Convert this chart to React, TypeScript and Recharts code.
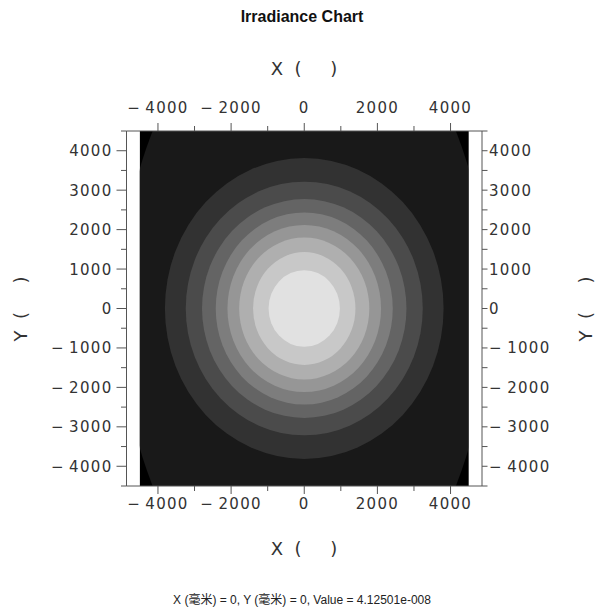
import React from 'react';
import { ComposedChart, XAxis, YAxis, ReferenceArea, Scatter } from 'recharts';

// grid extent and axis ranges (mm)
const gridHalf = 4500;
const xDomain = [-4860, 4860];
const yDomain = [-4500, 4500];
const xTicks = [-4000, -3000, -2000, -1000, 0, 1000, 2000, 3000, 4000];
const yTicks = [-4500, -4000, -3500, -3000, -2500, -2000, -1500, -1000, -500, 0, 500, 1000, 1500, 2000, 2500, 3000, 3500, 4000, 4500];

// contour bands, outer to inner: half widths / half heights in mm, and gray level
const bandHalfX = [5020, 3810, 3240, 2795, 2420, 2100, 1780, 1400, 975];
const bandHalfY = [7970, 3815, 3215, 2775, 2435, 2120, 1800, 1430, 972];
const bandColors = ['#191919', '#323232', '#4b4b4b', '#646464', '#7d7d7d', '#969696', '#afafaf', '#c8c8c8', '#e1e1e1'];

// probe point shown in the footer
const probe = [{ x: 0, y: 0, value: 4.12501e-8 }];

const axisColor = '#555';
const tickFont = { fontFamily: '"DejaVu Sans", sans-serif', fontSize: 15, letterSpacing: 1.3, fill: '#333' };
const titleFont = { fontFamily: '"DejaVu Sans", sans-serif', fontSize: 18, fill: '#333' };

const fmt = (v: number) => (v < 0 ? `\u2212\u2009${-v}` : `${v}`);
const axisTitle = 'X\u00a0\u00a0(\u00a0\u00a0\u00a0\u00a0\u00a0)';
const yAxisTitle = 'Y\u00a0\u00a0(\u00a0\u00a0\u00a0\u00a0\u00a0)';

const XTick = (props: any) => {
  const { x, y, payload, side } = props;
  const v = payload.value;
  const major = v % 2000 === 0;
  const dir = side === 'top' ? -1 : 1;
  const len = major ? 8 : 5;
  return (
    <g>
      <line x1={x} y1={y} x2={x} y2={y + dir * len} stroke={axisColor} />
      {major && (
        <text x={x} y={side === 'top' ? y - 18 : y + 23} textAnchor="middle" {...tickFont}>
          {fmt(v)}
        </text>
      )}
    </g>
  );
};

const YTick = (props: any) => {
  const { x, y, payload, side } = props;
  const v = payload.value;
  const major = v % 1000 === 0;
  const left = side === 'left';
  const len = left ? (major ? 10 : 5.5) : 5.5;
  return (
    <g>
      <line x1={x} y1={y} x2={left ? x - len : x + len} y2={y} stroke={axisColor} />
      {major && (
        <text x={left ? x - 14 : x + 7} y={y + 5.5} textAnchor={left ? 'end' : 'start'} {...tickFont}>
          {fmt(v)}
        </text>
      )}
    </g>
  );
};

const Ellipse = (p: any, color: string) => (
  <ellipse
    cx={p.x + p.width / 2}
    cy={p.y + p.height / 2}
    rx={p.width / 2}
    ry={p.height / 2}
    fill={color}
    clipPath={p.clipPath}
  />
);

export default function App() {
  return (
    <div style={{ position: 'absolute', left: 0, top: 0, width: 598, height: 609, background: '#fff' }}>
      <ComposedChart width={598} height={609} margin={{ top: 0, right: 0, bottom: 0, left: 0 }}>
        <XAxis
          xAxisId="bottom"
          orientation="bottom"
          type="number"
          dataKey="x"
          domain={xDomain}
          ticks={xTicks}
          height={123}
          allowDataOverflow
          axisLine={{ stroke: axisColor }}
          tickLine={false}
          tickSize={0}
          tickMargin={0}
          interval={0}
          tick={(p: any) => <XTick {...p} side="bottom" />}
        />
        <XAxis
          xAxisId="top"
          orientation="top"
          type="number"
          dataKey="x"
          domain={xDomain}
          ticks={xTicks}
          height={131}
          allowDataOverflow
          axisLine={{ stroke: axisColor }}
          tickLine={false}
          tickSize={0}
          tickMargin={0}
          interval={0}
          tick={(p: any) => <XTick {...p} side="top" />}
        />
        <YAxis
          yAxisId="left"
          orientation="left"
          type="number"
          dataKey="y"
          domain={yDomain}
          ticks={yTicks}
          width={126.5}
          allowDataOverflow
          axisLine={{ stroke: axisColor }}
          tickLine={false}
          tickSize={0}
          tickMargin={0}
          interval={0}
          tick={(p: any) => <YTick {...p} side="left" />}
        />
        <YAxis
          yAxisId="right"
          orientation="right"
          type="number"
          dataKey="y"
          domain={yDomain}
          ticks={yTicks}
          width={116}
          allowDataOverflow
          axisLine={{ stroke: axisColor }}
          tickLine={false}
          tickSize={0}
          tickMargin={0}
          interval={0}
          tick={(p: any) => <YTick {...p} side="right" />}
        />
        <ReferenceArea
          xAxisId="bottom"
          yAxisId="left"
          x1={-gridHalf}
          x2={gridHalf}
          y1={-gridHalf}
          y2={gridHalf}
          fill="#000"
          fillOpacity={1}
          stroke="none"
        />
        {bandColors.map((c, i) => (
          <ReferenceArea
            key={i}
            xAxisId="bottom"
            yAxisId="left"
            x1={-bandHalfX[i]}
            x2={bandHalfX[i]}
            y1={-bandHalfY[i]}
            y2={bandHalfY[i]}
            ifOverflow="hidden"
            shape={(p: any) => Ellipse(p, c)}
          />
        ))}
        <ReferenceArea
          xAxisId="bottom"
          yAxisId="left"
          x1={xDomain[0]}
          x2={-gridHalf}
          y1={yDomain[0]}
          y2={yDomain[1]}
          fill="#fff"
          fillOpacity={1}
          stroke="none"
          ifOverflow="hidden"
        />
        <ReferenceArea
          xAxisId="bottom"
          yAxisId="left"
          x1={gridHalf}
          x2={xDomain[1]}
          y1={yDomain[0]}
          y2={yDomain[1]}
          fill="#fff"
          fillOpacity={1}
          stroke="none"
          ifOverflow="hidden"
        />
        <Scatter
          data={probe}
          xAxisId="bottom"
          yAxisId="left"
          dataKey="y"
          fill="none"
          isAnimationActive={false}
          shape={() => <g />}
        />
      </ComposedChart>
      <svg width={598} height={609} style={{ position: 'absolute', left: 0, top: 0, pointerEvents: 'none' }}>
        <text x={302} y={22} textAnchor="middle" fontFamily='"Liberation Sans", Arial, sans-serif' fontWeight="bold" fontSize={16} fill="#111">
          Irradiance Chart
        </text>
        <text x={304} y={75} textAnchor="middle" {...titleFont}>{axisTitle}</text>
        <text x={304} y={555} textAnchor="middle" {...titleFont}>{axisTitle}</text>
        <text x={0} y={0} textAnchor="middle" transform="translate(27 309) rotate(-90)" {...titleFont}>{yAxisTitle}</text>
        <text x={0} y={0} textAnchor="middle" transform="translate(592 309) rotate(-90)" {...titleFont}>{yAxisTitle}</text>
        <text x={302} y={604} textAnchor="middle" fontFamily='"Liberation Sans", Arial, "Noto Sans CJK SC", sans-serif' fontSize={12} fill="#222">
          X (毫米) = 0, Y (毫米) = 0, Value = 4.12501e-008
        </text>
      </svg>
    </div>
  );
}
